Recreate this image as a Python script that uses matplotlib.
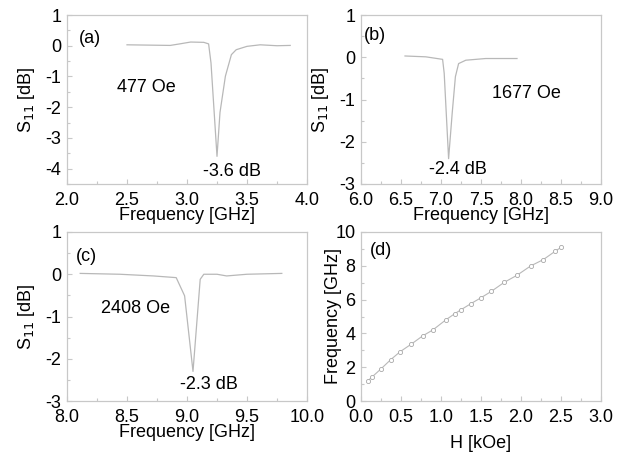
import numpy as np
import matplotlib
matplotlib.use('Agg')
import matplotlib.pyplot as plt
from matplotlib.ticker import MultipleLocator, FormatStrFormatter

plt.rcParams['font.family'] = ['Liberation Sans', 'DejaVu Sans']
plt.rcParams['axes.unicode_minus'] = False

# (a) 477 Oe
fa = [2.50, 2.86, 2.94, 3.03, 3.14, 3.18, 3.20, 3.25, 3.275, 3.32, 3.37, 3.41, 3.50, 3.61, 3.75, 3.86]
sa = [0.03, 0.01, 0.06, 0.12, 0.11, 0.06, -0.56, -3.6, -2.17, -0.99, -0.29, -0.13, -0.02, 0.03, 0.0, 0.01]

# (b) 1677 Oe
fb = [6.55, 6.81, 7.02, 7.04, 7.095, 7.14, 7.18, 7.22, 7.31, 7.56, 7.95]
sb = [0.03, 0.01, -0.05, -0.38, -2.4, -1.32, -0.46, -0.15, -0.07, -0.03, -0.03]

# (c) 2408 Oe
fc = [8.11, 8.44, 8.72, 8.91, 8.98, 9.05, 9.08, 9.11, 9.14, 9.25, 9.33, 9.50, 9.79]
sc = [0.02, 0.0, -0.04, -0.08, -0.51, -2.3, -1.21, -0.12, 0.0, 0.0, -0.04, 0.0, 0.02]

# (d) resonance frequency vs field
H = [0.09, 0.14, 0.25, 0.37, 0.49, 0.63, 0.77, 0.90, 1.06, 1.17, 1.25, 1.37,
     1.50, 1.63, 1.79, 1.95, 2.12, 2.28, 2.43, 2.50]
F = [1.21, 1.43, 1.90, 2.44, 2.92, 3.37, 3.85, 4.21, 4.80, 5.16, 5.40, 5.75,
     6.11, 6.49, 7.02, 7.44, 7.99, 8.37, 8.87, 9.09]

GRAY = '#c8c8c8'
LINE = '#b8b8b8'
FS = 13

fig = plt.figure(figsize=(6.27, 4.55), dpi=100)
W, Hh = 240 / 627, 169 / 455
ax_a = fig.add_axes([67 / 627, 1 - 184 / 455, W, Hh])
ax_b = fig.add_axes([361 / 627, 1 - 184 / 455, W, Hh])
ax_c = fig.add_axes([67 / 627, 1 - 401 / 455, W, Hh])
ax_d = fig.add_axes([361 / 627, 1 - 401 / 455, W, Hh])


def style(ax, xmaj, xmin, ymaj, ymin, xfmt, yfmt):
    for sp in ax.spines.values():
        sp.set_color(GRAY)
        sp.set_linewidth(0.9)
    ax.xaxis.set_major_locator(MultipleLocator(xmaj))
    ax.xaxis.set_minor_locator(MultipleLocator(xmin))
    ax.yaxis.set_major_locator(MultipleLocator(ymaj))
    ax.yaxis.set_minor_locator(MultipleLocator(ymin))
    ax.xaxis.set_major_formatter(FormatStrFormatter(xfmt))
    ax.yaxis.set_major_formatter(FormatStrFormatter(yfmt))
    ax.tick_params(which='both', direction='in', color=GRAY, width=0.8,
                   labelsize=FS, top=False, right=False)
    ax.tick_params(which='major', length=3.5)
    ax.tick_params(which='minor', length=2)
    ax.tick_params(axis='x', which='major', pad=5.5)
    ax.tick_params(axis='y', which='major', pad=4)


# (a)
ax_a.plot(fa, sa, color=LINE, lw=0.9)
ax_a.set_xlim(2.0, 4.0)
ax_a.set_ylim(-4.5, 1.0)
style(ax_a, 0.5, 0.25, 1, 0.5, '%.1f', '%d')
ax_a.text(2.1, 0.23, '(a)', fontsize=FS, va='center')
ax_a.text(2.42, -1.35, '477 Oe', fontsize=FS, va='center')
ax_a.text(3.13, -4.1, '-3.6 dB', fontsize=FS, va='center')
ax_a.set_xlabel('Frequency [GHz]', fontsize=FS, labelpad=-1)
ax_a.set_ylabel('S$_{11}$ [dB]', fontsize=FS, labelpad=6)

# (b)
ax_b.plot(fb, sb, color=LINE, lw=0.9)
ax_b.set_xlim(6.0, 9.0)
ax_b.set_ylim(-3.0, 1.0)
style(ax_b, 0.5, 0.25, 1, 0.5, '%.1f', '%d')
ax_b.text(6.04, 0.52, '(b)', fontsize=FS, va='center')
ax_b.text(7.64, -0.85, '1677 Oe', fontsize=FS, va='center')
ax_b.text(6.85, -2.66, '-2.4 dB', fontsize=FS, va='center')
ax_b.set_xlabel('Frequency [GHz]', fontsize=FS, labelpad=-1)
ax_b.set_ylabel('S$_{11}$ [dB]', fontsize=FS, labelpad=6)

# (c)
ax_c.plot(fc, sc, color=LINE, lw=0.9)
ax_c.set_xlim(8.0, 10.0)
ax_c.set_ylim(-3.0, 1.0)
style(ax_c, 0.5, 0.25, 1, 0.5, '%.1f', '%d')
ax_c.text(8.07, 0.43, '(c)', fontsize=FS, va='center')
ax_c.text(8.28, -0.82, '2408 Oe', fontsize=FS, va='center')
ax_c.text(8.94, -2.61, '-2.3 dB', fontsize=FS, va='center')
ax_c.set_xlabel('Frequency [GHz]', fontsize=FS, labelpad=-1)
ax_c.set_ylabel('S$_{11}$ [dB]', fontsize=FS, labelpad=6)

# (d)
ax_d.plot(H, F, color=LINE, lw=0.8, marker='o', ms=3, mfc='white',
          mec='#a8a8a8', mew=0.6)
ax_d.set_xlim(0.0, 3.0)
ax_d.set_ylim(0, 10)
style(ax_d, 0.5, 0.25, 2, 1, '%.1f', '%d')
ax_d.text(0.11, 8.93, '(d)', fontsize=FS, va='center')
ax_d.set_xlabel('H [kOe]', fontsize=FS, labelpad=7)
ax_d.set_ylabel('Frequency [GHz]', fontsize=FS, labelpad=-5)

fig.savefig('out.png', dpi=100)
